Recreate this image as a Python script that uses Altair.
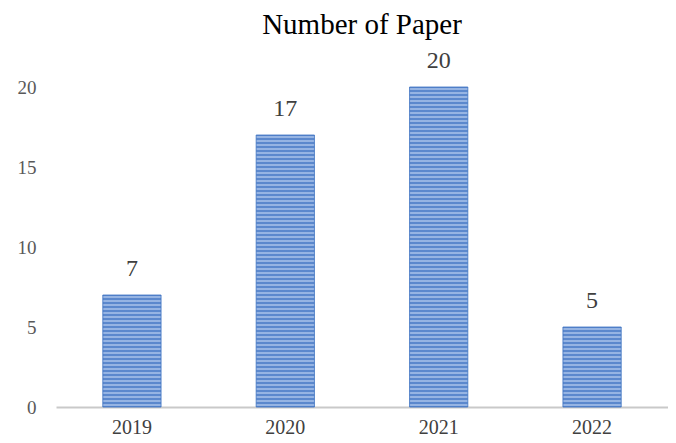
import altair as alt
import pandas as pd

years = ["2019", "2020", "2021", "2022"]
papers = [7, 17, 20, 5]

df = pd.DataFrame({"year": years, "papers": papers})

DARK = "#3e72c2"
LIGHT = "#b3caee"


def stripes(v, per_unit=4):
    n = int(v * per_unit)
    stops = []
    for i in range(n):
        stops.append({"offset": i / n, "color": DARK})
        stops.append({"offset": (i + 0.5) / n, "color": LIGHT})
    stops.append({"offset": 1.0, "color": DARK})
    return {"gradient": "linear", "x1": 0, "y1": 0, "x2": 0, "y2": 1, "stops": stops}


x_enc = alt.X(
    "year:N",
    sort=years,
    scale=alt.Scale(paddingInner=0.62, paddingOuter=0.305),
    axis=alt.Axis(
        title=None, labelAngle=0, domainColor="#c9c9c9", domainWidth=2,
        ticks=False, labelFont="Liberation Serif", labelFontSize=20,
        labelColor="#404040", labelPadding=10,
    ),
)
y_enc = alt.Y(
    "papers:Q",
    scale=alt.Scale(domain=[0, 20]),
    axis=alt.Axis(
        title=None, values=[0, 5, 10, 15, 20], domain=False, ticks=False,
        grid=False, labelFont="Liberation Serif", labelFontSize=19,
        labelColor="#595959", labelPadding=20,
    ),
)

base = alt.Chart(df)
layers = []
for yr, v in zip(years, papers):
    layers.append(
        base.transform_filter(alt.datum.year == yr)
        .mark_bar(fill=stripes(v), stroke=DARK, strokeWidth=0.8)
        .encode(x=x_enc, y=y_enc)
    )

labels = base.mark_text(
    dy=-19, baseline="alphabetic", font="Liberation Serif", fontSize=24, color="#404040"
).encode(x=x_enc, y=y_enc, text="papers:Q")

chart = (
    alt.layer(*layers, labels)
    .properties(
        width=612, height=320,
        title=alt.TitleParams(
            "Number of Paper", font="Liberation Serif", fontSize=29,
            fontWeight="normal", color="#000000", offset=9,
        ),
        padding={"left": 9, "top": 3, "right": 0, "bottom": 0},
    )
    .configure_view(stroke=None)
)

chart.save("out.html", embed_options={"renderer": "svg", "actions": False})
